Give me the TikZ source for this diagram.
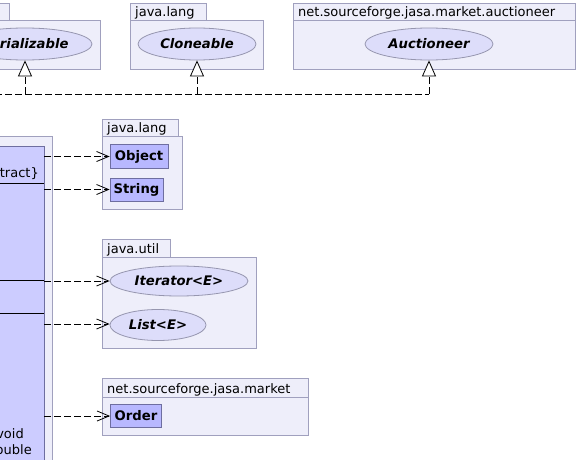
\documentclass[tikz,border=0pt]{standalone}
\usepackage{fontspec}
\setmainfont{DejaVu Sans}
\usetikzlibrary{arrows.meta,shapes.geometric}
\definecolor{pkgfill}{RGB}{238,238,250}
\definecolor{pkgline}{RGB}{160,160,190}
\definecolor{ifcfill}{RGB}{221,221,250}
\definecolor{ifcline}{RGB}{150,150,175}
\definecolor{clsfill}{RGB}{184,184,255}
\definecolor{clsline}{RGB}{110,110,160}
\definecolor{bigfill}{RGB}{204,204,255}
\begin{document}
\begin{tikzpicture}[x=1pt,y=-1pt,
  every node/.style={font=\fontsize{13pt}{15.5pt}\selectfont},
  pkgbox/.style={draw=pkgline,fill=pkgfill,line width=0.8pt},
  pkglbl/.style={anchor=base west,inner sep=0pt},
  ifc/.style={ellipse,draw=ifcline,fill=ifcfill,line width=0.8pt,font=\fontsize{13.2pt}{15.5pt}\selectfont\bfseries\itshape,inner sep=0pt},
  cls/.style={rectangle,draw=clsline,fill=clsfill,line width=0.8pt,font=\fontsize{13.2pt}{15.5pt}\selectfont\bfseries,inner sep=0pt},
  bigcls/.style={rectangle,draw=clsline,fill=bigfill,line width=0.8pt,inner sep=0pt},
  member/.style={anchor=base east,inner sep=0pt},
  sepline/.style={draw=black,line width=0.8pt},
  dep/.style={draw=black,line width=0.8pt,dash pattern=on 6.5pt off 3.5pt,-{Straight Barb[length=12pt,width=10pt]}},
  real/.style={draw=black,line width=0.8pt,dash pattern=on 6.5pt off 3.5pt},
  realhead/.style={real,-{Triangle[length=16pt,width=14pt,fill=white]}}
]
\useasboundingbox (0,0) rectangle (579,460);

% ---- top packages ----
\draw[pkgbox] (-10,3) rectangle (9,20);
\draw[pkgbox] (-10,20) rectangle (100,69);
\node[ifc,minimum width=134pt,minimum height=32pt] (ser) at (25,44) {Serializable};

\draw[pkgbox] (130,3) rectangle (206,20);
\draw[pkgbox] (130,20) rectangle (263,69);
\node[pkglbl] (lang1) at (135,16.5) {java.lang};
\node[ifc,minimum width=118pt,minimum height=32pt] (clo) at (197,44) {Cloneable};

\draw[pkgbox] (293,3) rectangle (575,20);
\draw[pkgbox] (293,20) rectangle (575,69);
\node[pkglbl] (auclbl) at (298,16.5) {net.sourceforge.jasa.market.auctioneer};
\node[ifc,minimum width=128pt,minimum height=32pt] (auc) at (429,44) {Auctioneer};

% ---- main class (cut off at left) ----
\draw[pkgbox] (-10,136) rectangle (52.5,470);
\node[bigcls,minimum width=54pt,minimum height=324pt] (main) at (17,308) {};
\draw[sepline] (main.west |- 0,183) -- (main.east |- 0,183);
\draw[sepline] (main.west |- 0,280.5) -- (main.east |- 0,280.5);
\draw[sepline] (main.west |- 0,313) -- (main.east |- 0,313);
\node[member] (abs) at (39,177) {\{abstract\}};
\node[member] (rv) at (24,438) {void};
\node[member] (rd) at (32,454) {double};

% ---- java.lang (middle) ----
\draw[pkgbox] (102.5,119.5) rectangle (178.5,136);
\draw[pkgbox] (102.5,136) rectangle (182.5,209);
\node[pkglbl] (lang2) at (107,132.5) {java.lang};
\node[cls,minimum width=58pt,minimum height=24pt] (obj) at (139,156.5) {Object};
\node[cls,minimum width=53pt,minimum height=23pt] (str) at (136.5,189.5) {String};

% ---- java.util ----
\draw[pkgbox] (102.5,239.5) rectangle (170.5,257);
\draw[pkgbox] (102.5,257) rectangle (256.5,348);
\node[pkglbl] (util) at (107,253) {java.util};
\node[ifc,minimum width=138pt,minimum height=30pt] (iter) at (179,281) {Iterator<E>};
\node[ifc,minimum width=96pt,minimum height=31pt] (list) at (158,325) {List<E>};

% ---- market ----
\draw[pkgbox] (102.5,378.5) rectangle (308.5,397);
\draw[pkgbox] (102.5,397) rectangle (308.5,435.5);
\node[pkglbl] (mkt) at (107,393) {net.sourceforge.jasa.market};
\node[cls,minimum width=51pt,minimum height=23pt] (ord) at (136,416) {Order};

% ---- realizations ----
\coordinate (src) at (-5,94);
\draw[real] (src) -- (auc.south |- src);
\draw[realhead] (ser.south |- src) -- (ser.south);
\draw[realhead] (clo.south |- src) -- (clo.south);
\draw[realhead] (auc.south |- src) -- (auc.south);

% ---- dependencies ----
\draw[dep] (main.east |- obj.west) -- (obj.west);
\draw[dep] (main.east |- str.west) -- (str.west);
\draw[dep] (main.east |- iter.west) -- (iter.west);
\draw[dep] (main.east |- 0,324) -- (list.west |- 0,324);
\draw[dep] (main.east |- ord.west) -- (ord.west);
\end{tikzpicture}
\end{document}
